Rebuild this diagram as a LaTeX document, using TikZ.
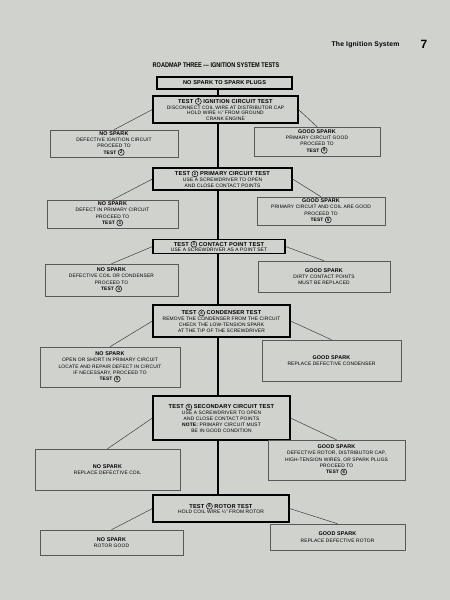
\documentclass[tikz,border=0pt]{standalone}
\usepackage{fontspec}
\setmainfont[LetterSpace=3]{Liberation Sans}
\newfontfamily\condfont[FakeStretch=0.82]{Liberation Sans}
% numero en circulo
\newcommand{\cnum}[1]{\tikz[baseline=-0.65ex]\node[circle,draw,line width=0.5pt,inner sep=0.2pt,minimum size=6pt,font=\fontsize{4.2}{4.2}\selectfont\bfseries]{#1};}

\begin{document}
\begin{tikzpicture}[x=1pt,y=-1pt,
    testbox/.style={draw=black,line width=1.1pt,fill=bg,align=center,inner sep=0pt,font=\fontsize{4.9}{5.8}\selectfont},
    resbox/.style={draw=black!65,line width=0.5pt,fill=bg,align=center,inner sep=0pt,font=\fontsize{4.9}{6.3}\selectfont},
    spine/.style={line width=1.1pt,black},
    link/.style={line width=0.45pt,black!80}]
    %colores
    \definecolor{bg}{RGB}{208,210,206}

    % fondo
    \fill[bg] (0,0) rectangle (450,600);
    \useasboundingbox (0,0) rectangle (450,600);

    % cabecera
    \node[font=\bfseries\fontsize{6.8}{7}\selectfont,anchor=base east] (cab) at (403,46) {The Ignition System};
    \node[font=\bfseries\fontsize{12}{12}\selectfont,anchor=base] (pag) at (424,48) {7};
    \node[font=\condfont\bfseries\fontsize{6.8}{7}\selectfont] (tit) at (216,65) {ROADMAP THREE --- IGNITION SYSTEM TESTS};

    % eje
    \coordinate (sp) at (218,0);

    % cajas de prueba
    \node[testbox,minimum width=135pt,minimum height=12pt,font=\bfseries\fontsize{5.6}{5.8}\selectfont] (ns) at (224.5,83) {NO SPARK TO SPARK PLUGS};
    \node[testbox,minimum width=145pt,minimum height=27pt] (t1) at (225.5,109.5)
        {\textbf{\fontsize{5.7}{5.8}\selectfont TEST \cnum{1} IGNITION CIRCUIT TEST}\\DISCONNECT COIL WIRE AT DISTRIBUTOR CAP\\HOLD WIRE ¼" FROM GROUND\\CRANK ENGINE};
    \node[testbox,minimum width=139pt,minimum height=22pt] (t2) at (222.5,179)
        {\textbf{\fontsize{5.7}{5.8}\selectfont TEST \cnum{2} PRIMARY CIRCUIT TEST}\\USE A SCREWDRIVER TO OPEN\\AND CLOSE CONTACT POINTS};
    \node[testbox,minimum width=132pt,minimum height=14pt] (t3) at (219,246.5)
        {\textbf{\fontsize{5.7}{5.8}\selectfont TEST \cnum{3} CONTACT POINT TEST}\\USE A SCREWDRIVER AS A POINT SET};
    \node[testbox,minimum width=137pt,minimum height=32pt] (t4) at (221.5,321)
        {\textbf{\fontsize{5.7}{5.8}\selectfont TEST \cnum{4} CONDENSER TEST}\\REMOVE THE CONDENSER FROM THE CIRCUIT\\CHECK THE LOW-TENSION SPARK\\AT THE TIP OF THE SCREWDRIVER};
    \node[testbox,minimum width=137pt,minimum height=44pt] (t5) at (221.5,418)
        {\textbf{\fontsize{5.7}{5.8}\selectfont TEST \cnum{5} SECONDARY CIRCUIT TEST}\\USE A SCREWDRIVER TO OPEN\\AND CLOSE CONTACT POINTS\\\textbf{NOTE:} PRIMARY CIRCUIT MUST\\BE IN GOOD CONDITION};
    \node[testbox,minimum width=136pt,minimum height=27pt] (t6) at (221,508.5)
        {\textbf{\fontsize{5.7}{5.8}\selectfont TEST \cnum{6} ROTOR TEST}\\HOLD COIL WIRE ¼" FROM ROTOR};

    % resultados
    \node[resbox,minimum width=128pt,minimum height=27pt] (l1) at (114,143.5)
        {\textbf{\fontsize{5.4}{6.3}\selectfont NO SPARK}\\DEFECTIVE IGNITION CIRCUIT\\PROCEED TO\\\textbf{TEST \cnum{2}}};
    \node[resbox,minimum width=126pt,minimum height=29pt] (r1) at (317,141.5)
        {\textbf{\fontsize{5.4}{6.3}\selectfont GOOD SPARK}\\PRIMARY CIRCUIT GOOD\\PROCEED TO\\\textbf{TEST \cnum{5}}};
    \node[resbox,minimum width=131pt,minimum height=28pt] (l2) at (112.5,214)
        {\textbf{\fontsize{5.4}{6.3}\selectfont NO SPARK}\\DEFECT IN PRIMARY CIRCUIT\\PROCEED TO\\\textbf{TEST \cnum{3}}};
    \node[resbox,minimum width=128pt,minimum height=28pt] (r2) at (321,211)
        {\textbf{\fontsize{5.4}{6.3}\selectfont GOOD SPARK}\\PRIMARY CIRCUIT AND COIL ARE GOOD\\PROCEED TO\\\textbf{TEST \cnum{5}}};
    \node[resbox,minimum width=133pt,minimum height=32pt] (l3) at (111.5,280)
        {\textbf{\fontsize{5.4}{6.3}\selectfont NO SPARK}\\DEFECTIVE COIL OR CONDENSER\\PROCEED TO\\\textbf{TEST \cnum{4}}};
    \node[resbox,minimum width=132pt,minimum height=31pt] (r3) at (324,276.5)
        {\textbf{\fontsize{5.4}{6.3}\selectfont GOOD SPARK}\\DIRTY CONTACT POINTS\\MUST BE REPLACED};
    \node[resbox,minimum width=140pt,minimum height=40pt] (l4) at (110,367)
        {\textbf{\fontsize{5.4}{6.3}\selectfont NO SPARK}\\OPEN OR SHORT IN PRIMARY CIRCUIT\\LOCATE AND REPAIR DEFECT IN CIRCUIT\\IF NECESSARY, PROCEED TO\\\textbf{TEST \cnum{5}}};
    \node[resbox,minimum width=139pt,minimum height=41pt] (r4) at (331.5,360.5)
        {\textbf{\fontsize{5.4}{6.3}\selectfont GOOD SPARK}\\REPLACE DEFECTIVE CONDENSER};
    \node[resbox,minimum width=145pt,minimum height=41pt] (l5) at (107.5,469.5)
        {\textbf{\fontsize{5.4}{6.3}\selectfont NO SPARK}\\REPLACE DEFECTIVE COIL};
    \node[resbox,minimum width=137pt,minimum height=40pt] (r5) at (336.5,460)
        {\textbf{\fontsize{5.4}{6.3}\selectfont GOOD SPARK}\\DEFECTIVE ROTOR, DISTRIBUTOR CAP,\\HIGH-TENSION WIRES, OR SPARK PLUGS\\PROCEED TO\\\textbf{TEST \cnum{6}}};
    \node[resbox,minimum width=143pt,minimum height=25pt] (l6) at (111.5,542.5)
        {\textbf{\fontsize{5.4}{6.3}\selectfont NO SPARK}\\ROTOR GOOD};
    \node[resbox,minimum width=135pt,minimum height=26pt] (r6) at (337.5,537)
        {\textbf{\fontsize{5.4}{6.3}\selectfont GOOD SPARK}\\REPLACE DEFECTIVE ROTOR};

    % lineas
    \foreach \a/\b in {ns/t1,t1/t2,t2/t3,t3/t4,t4/t5,t5/t6}
        \draw[spine] (\a.south -| sp) -- (\b.north -| sp);
    \foreach \t/\l/\r in {t1/l1/r1,t2/l2/r2,t3/l3/r3,t4/l4/r4,t5/l5/r5,t6/l6/r6}
        \draw[link] (\t.west) -- (\l.north) (\t.east) -- (\r.north);
\end{tikzpicture}
\end{document}
